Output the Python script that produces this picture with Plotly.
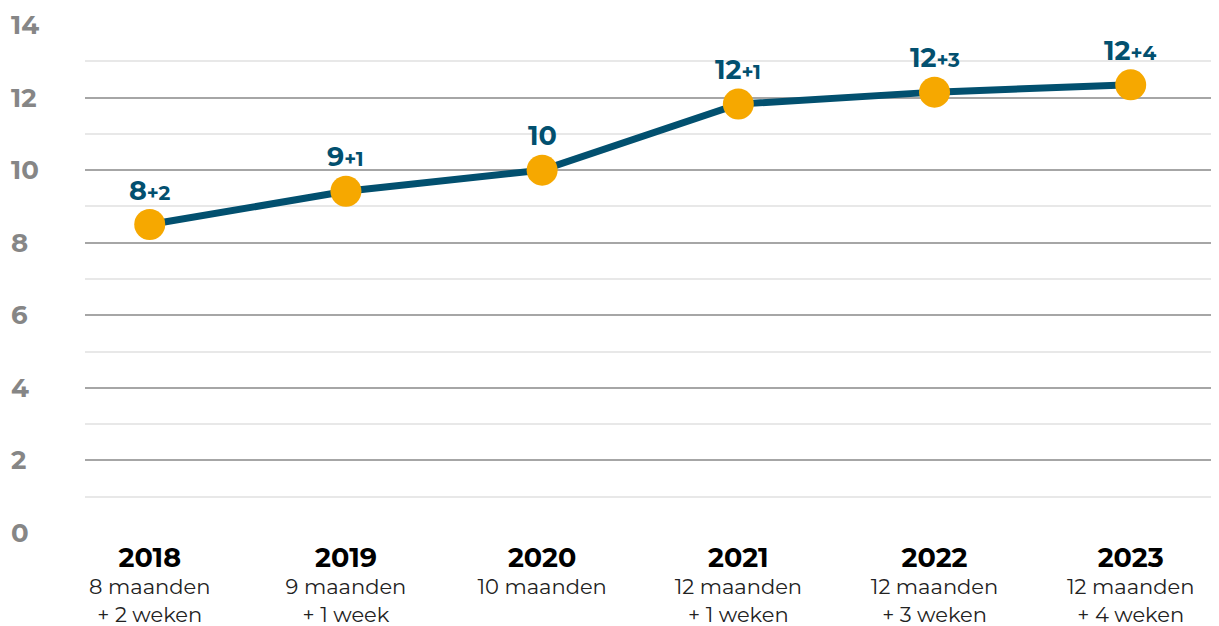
import plotly.graph_objects as go

years = ["2018", "2019", "2020", "2021", "2022", "2023"]
subtitles = ["8 maanden<br>+ 2 weken", "9 maanden<br>+ 1 week", "10 maanden",
             "12 maanden<br>+ 1 weken", "12 maanden<br>+ 3 weken", "12 maanden<br>+ 4 weken"]
values = [8.5, 9.42, 10.0, 11.82, 12.15, 12.35]
main_labels = ["8", "9", "10", "12", "12", "12"]
extra_labels = ["+2", "+1", "", "+1", "+3", "+4"]
y_ticks = [0, 2, 4, 6, 8, 10, 12, 14]

LINE = "#02506f"
MARK = "#f6a800"
FONT = "Montserrat, 'Open Sans', 'DejaVu Sans', sans-serif"

xs = list(range(len(years)))

fig = go.Figure()
fig.add_trace(go.Scatter(
    x=xs, y=values, mode="lines+markers",
    line=dict(color=LINE, width=7),
    marker=dict(color=MARK, size=31, line=dict(width=0)),
    hoverinfo="skip", showlegend=False,
))

for x, v, m, e in zip(xs, values, main_labels, extra_labels):
    txt = f"<b>{m}</b>"
    if e:
        txt += f"<b><span style='font-size:20px'>{e}</span></b>"
    fig.add_annotation(x=x, y=v, text=txt, showarrow=False, yanchor="bottom",
                       yshift=16, font=dict(family=FONT, size=27, color=LINE))

# y tick labels (left aligned, like the reference)
for t in y_ticks:
    fig.add_annotation(x=-0.067, xref="paper", y=t, yref="y", text=f"<b>{t}</b>",
                       showarrow=False, xanchor="left", yanchor="middle",
                       font=dict(family=FONT, size=26, color="#868686"))

ticktext = [f"<b><span style='font-size:27px;color:#000'>{y}</span></b><br>{s}"
            for y, s in zip(years, subtitles)]

# the page body has an 8px margin, so the figure is 8px smaller than the window
fig.update_layout(
    width=1211, height=618,
    margin=dict(l=77, r=0, t=17, b=93),
    paper_bgcolor="white", plot_bgcolor="white",
    font=dict(family=FONT),
    xaxis=dict(range=[-0.33, 5.45], tickvals=xs, ticktext=ticktext,
               showgrid=False, zeroline=False, showline=False, automargin=False,
               tickfont=dict(family=FONT, size=21, color="#222"), ticks="",
               ticklabelstandoff=12,
               fixedrange=True),
    yaxis=dict(range=[0, 14], tickvals=y_ticks, showgrid=True, automargin=False,
               gridcolor="#a6a6a6", gridwidth=2, zeroline=False, showline=False,
               showticklabels=False, ticks="",
               minor=dict(dtick=1, tick0=1, showgrid=True, gridcolor="#e8e8e8", gridwidth=2),
               fixedrange=True),
)

fig.write_html("out.html")
